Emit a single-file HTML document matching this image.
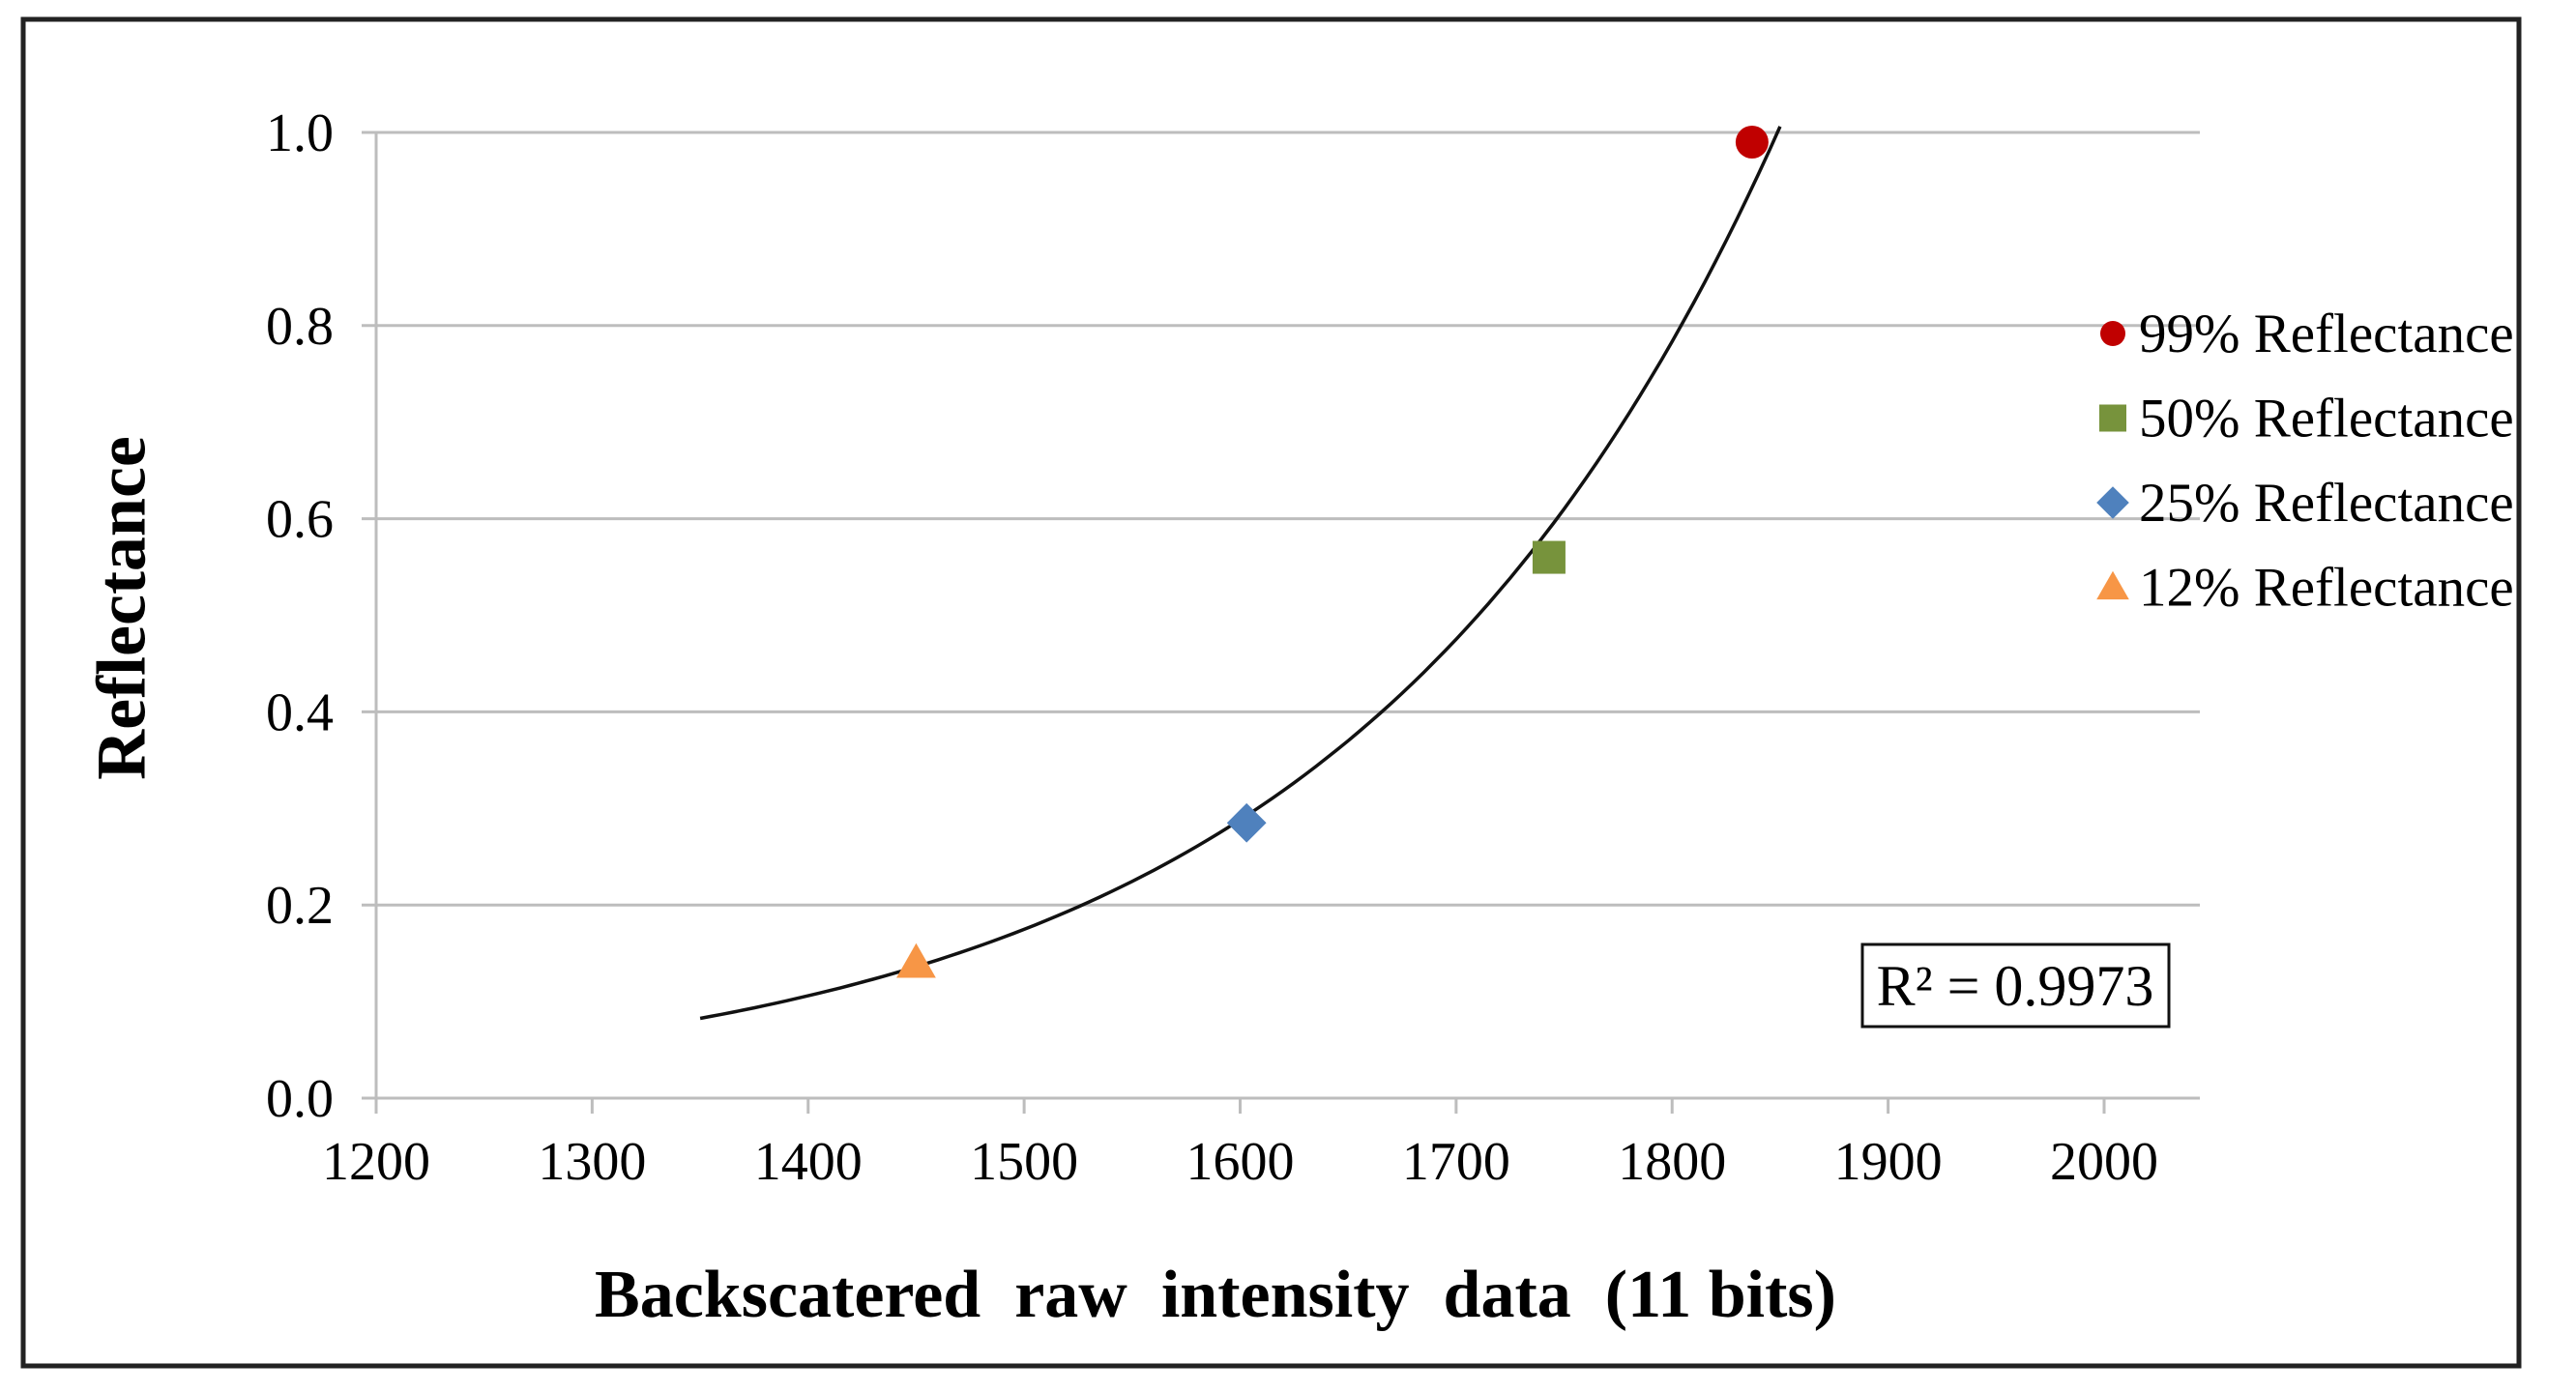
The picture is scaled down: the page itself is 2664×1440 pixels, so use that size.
<!DOCTYPE html>
<html><head><meta charset="utf-8"><style>
html,body{margin:0;padding:0;background:#fff;}
svg{display:block;font-family:"Liberation Serif",serif;}
</style></head><body>
<svg id="chart" width="2664" height="1440" viewBox="0 0 2664 1440">
<rect x="24" y="20" width="2581" height="1393" fill="#fff" stroke="#222" stroke-width="5"/>
<g id="grid"></g>
<g id="axes"></g>
<path id="trend" fill="none" stroke="#111" stroke-width="3.5"/>
<g id="points"></g>
<text x="133" y="629" font-size="72" font-weight="bold" text-anchor="middle" dominant-baseline="middle" transform="rotate(-90 133 629)">Reflectance</text>
<text x="1257" y="1362" font-size="70" font-weight="bold" text-anchor="middle">Backscatered&#160; raw&#160; intensity&#160; data&#160; (11 bits)</text>
<g>
<rect x="1926" y="977" width="317" height="85" fill="#fff" stroke="#111" stroke-width="3"/>
<text x="2084" y="1040" font-size="60" text-anchor="middle">R² = 0.9973</text>
</g>
<g id="legend"></g>
</svg>
<script>
const xTicks=[1200,1300,1400,1500,1600,1700,1800,1900,2000];
const yTicks=[0.0,0.2,0.4,0.6,0.8,1.0];
const seriesNames=["99% Reflectance","50% Reflectance","25% Reflectance","12% Reflectance"];
const xValues=[1837,1743,1603,1450];
const yValues=[0.99,0.56,0.285,0.14];
const trendRange=[1350,1850];
const colors=["#c00000","#77933c","#4f81bd","#f79646"];
const shapes=["circle","square","diamond","triangle"];

const NS="http://www.w3.org/2000/svg";
const X0=389,X1=2176,Y0=1136,Y1=137;
function sx(v){return X0+(v-1200)/(2000-1200)*(X1-X0);}
function sy(v){return Y0-(v-0)/(1-0)*(Y0-Y1);}
function mk(tag,attrs,parent){const e=document.createElementNS(NS,tag);for(const k in attrs)e.setAttribute(k,attrs[k]);parent.appendChild(e);return e;}
const grid=document.getElementById('grid'),axes=document.getElementById('axes');
yTicks.forEach(t=>{
  const y=sy(t);
  const l=mk('line',{x1:X0-15,x2:2275,y1:y,y2:y,stroke:'#bdbdbd','stroke-width':3},grid);
  
  
  const tx=mk('text',{x:345,y:y+19,'font-size':56,'text-anchor':'end'},axes);
  tx.textContent=t.toFixed(1);
  
  
});
const ya=mk('line',{x1:X0,x2:X0,y1:Y1,y2:Y0,stroke:'#bdbdbd','stroke-width':3},axes);


xTicks.forEach(t=>{
  const x=sx(t);
  const l=mk('line',{x1:x,x2:x,y1:Y0,y2:Y0+16,stroke:'#bdbdbd','stroke-width':3},axes);
  
  
  const tx=mk('text',{x:x,y:1220,'font-size':56,'text-anchor':'middle'},axes);
  tx.textContent=t;
  
  
});
let n=xValues.length,sxv=0,syv=0,sxx=0,sxy=0;
for(let i=0;i<n;i++){const ly=Math.log(yValues[i]);sxv+=xValues[i];syv+=ly;sxx+=xValues[i]*xValues[i];sxy+=xValues[i]*ly;}
const b=(n*sxy-sxv*syv)/(n*sxx-sxv*sxv),a=(syv-b*sxv)/n;
let d="";
for(let i=0;i<=100;i++){const x=trendRange[0]+(trendRange[1]-trendRange[0])*i/100;const y=Math.exp(a+b*x);d+=(i?"L":"M")+sx(x).toFixed(1)+","+sy(y).toFixed(1);}
document.getElementById('trend').setAttribute('d',d);
function marker(shape,cx,cy,s,color,parent){
  if(shape==="circle")return mk('circle',{cx:cx,cy:cy,r:s*0.5,fill:color},parent);
  if(shape==="square")return mk('rect',{x:cx-s/2,y:cy-s/2,width:s,height:s,fill:color},parent);
  if(shape==="diamond")return mk('polygon',{points:`${cx},${cy-s*0.6} ${cx+s*0.6},${cy} ${cx},${cy+s*0.6} ${cx-s*0.6},${cy}`,fill:color},parent);
  return mk('polygon',{points:`${cx},${cy-s*0.6} ${cx+s*0.6},${cy+s*0.45} ${cx-s*0.6},${cy+s*0.45}`,fill:color},parent);
}
const pts=document.getElementById('points');
for(let i=0;i<n;i++){
  const m=marker(shapes[i],sx(xValues[i]),sy(yValues[i]),34,colors[i],pts);
  
  
}
const leg=document.getElementById('legend');
seriesNames.forEach((s,i)=>{
  const y=345+i*87.5;
  const g=mk('g',{},leg);
  
  
  marker(shapes[i],2185,y,i===0?26:28,colors[i],g);
  const t=mk('text',{x:2212,y:y+19,'font-size':57},g);
  t.textContent=s;
});
</script>
</body></html>
